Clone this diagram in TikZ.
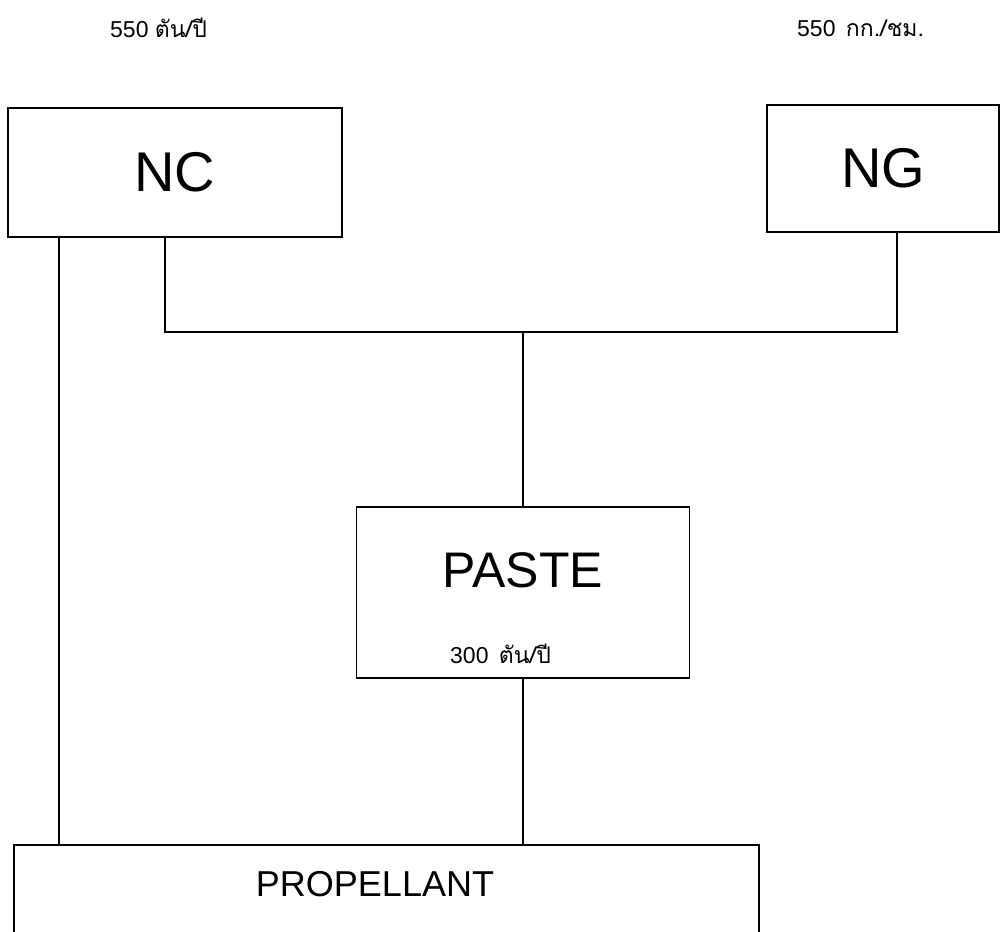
\documentclass[tikz,border=0pt]{standalone}
\usepackage{fontspec}
\setmainfont{Liberation Sans}
\newfontfamily\thaifont[Script=Thai]{Loma}
\begin{document}
\begin{tikzpicture}[x=1pt, y=-1pt,
    block/.style={draw, line width=1.8pt, inner sep=0pt},
    big/.style={font=\fontsize{56}{60}\selectfont},
    rate/.style={anchor=base west, inner sep=0pt, font=\fontsize{23}{28}\selectfont},
    link/.style={line width=1.6pt}]
    \useasboundingbox (0,0) rectangle (1002,932);
    \clip (0,0) rectangle (1002,932);

    % Vat dau vao
    \node[block, big, minimum width=334pt, minimum height=129pt] (nc) at (175,172.5) {NC};
    \node[block, big, minimum width=232pt, minimum height=127pt] (ng) at (883,168.5) {NG};
    \node[rate] (ncrate) at (110,37) {550 {\thaifont ตัน/ปี}};
    \node[rate] (ngrate) at (797,36) {550\hspace{0.45em}{\thaifont กก./ชม.}};

    % PASTE
    \node[block, minimum width=333pt, minimum height=171pt] (paste) at (523,592.5) {};
    \node[font=\fontsize{50}{54}\selectfont, inner sep=0pt] (pastename) at (523,570) {PASTE};
    \node[rate] (pasterate) at (450,663) {300\hspace{0.45em}{\thaifont ตัน/ปี}};

    % PROPELLANT
    \node[block, minimum width=745pt, minimum height=115pt] (prop) at (386.5,902.5) {};
    \node[font=\fontsize{36}{40}\selectfont, inner sep=0pt] (propname) at (375,884) {PROPELLANT};

    % Duong noi
    \coordinate (join) at (523,332);
    \draw[link] ([xshift=52pt]nc.south west) coordinate (ncleft) -- (ncleft |- prop.north);
    \draw[link] ([xshift=158pt]nc.south west) |- (join) -| ([xshift=131pt]ng.south west);
    \draw[link] (join) -- (paste.north);
    \draw[link] (paste.south) -- (paste.south |- prop.north);
\end{tikzpicture}
\end{document}
